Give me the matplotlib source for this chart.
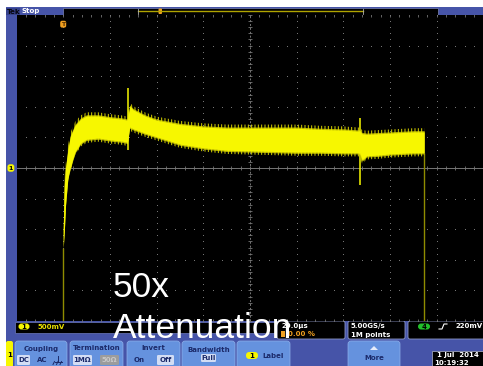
import matplotlib
matplotlib.use("Agg")
import matplotlib.pyplot as plt
import matplotlib.transforms as mtransforms
from matplotlib.patches import Rectangle, FancyBboxPatch, Polygon
import numpy as np

# ---------------- channel 1 capture (time in µs after trigger, volts) ----------------
t_env = [0.0, 0.5, 1.0, 2.0, 3.0, 5.0, 7.5, 10.0, 15.0, 20.0,
         25.0, 27.5, 28.5, 30.0, 35.0, 40.0, 50.0, 60.0, 70.0, 80.0,
         90.0, 100.0, 110.0, 120.0, 127.0, 128.0, 130.0, 135.0, 140.0, 150.0,
         154.6]
v_upper = [-1.01, -0.28, 0.0, 0.29, 0.51, 0.69, 0.80, 0.85, 0.85, 0.82,
           0.80, 0.78, 1.01, 0.95, 0.85, 0.78, 0.71, 0.67, 0.65, 0.65,
           0.65, 0.65, 0.63, 0.62, 0.60, 0.56, 0.55, 0.56, 0.57, 0.59,
           0.59]
v_lower = [-1.30, -1.01, -0.60, -0.16, 0.0, 0.26, 0.41, 0.47, 0.49, 0.46,
           0.44, 0.42, 0.67, 0.64, 0.57, 0.51, 0.39, 0.33, 0.29, 0.28,
           0.27, 0.26, 0.26, 0.25, 0.25, 0.13, 0.20, 0.21, 0.23, 0.25,
           0.25]

# short transients riding on the pulse
spike_t = [27.8, 127.2]
spike_top = [1.31, 0.82]
spike_bottom = [0.29, -0.28]

# pulse edges: the trace leaves / returns to a level below the screen
edge_t = [0.0, 154.6]
edge_top = [-1.30, 0.25]
baseline_v = -3.0

trig_t = 0.0
time_span = [-20.0, 180.0]      # 20 µs/div, 10 divisions
volt_span = [-2.5, 2.5]         # 500 mV/div, 10 divisions

# readouts
ch1_scale = "500mV"
timebase = "20.0µs"
trig_pos = "0.00 %"
sample_rate = "5.00GS/s"
record_len = "1M points"
trig_level = "220mV"
date_str = "1 Jul  2014"
time_str = "10:19:32"

# ---------------- colours ----------------
W, H = 483, 366
panel = "#4654a8"
btn = "#6592de"
btn_txt = "#1b2a6a"
chip = "#d3ddf4"
yellow = "#f7f700"
olive = "#8f8c00"
orange = "#f0a020"
grid_c = "#767676"

plt.rcParams["hatch.linewidth"] = 0.7

fig = plt.figure(figsize=(W / 100, H / 100), dpi=100)
fig.patch.set_facecolor("white")

# ---------------- instrument frame (pixel coordinates) ----------------
bg = fig.add_axes([0, 0, 1, 1], zorder=0)
bg.set_xlim(0, W)
bg.set_ylim(H, 0)
bg.axis("off")

small = dict(fontsize=5.0, fontweight="bold", family="DejaVu Sans")

# top status bar
bg.add_patch(Rectangle((6, 7), W - 6, 8.5, color=panel, lw=0))
bg.add_patch(Rectangle((6, 7.5), 14, 7.5, color="#36428c", lw=0))
bg.text(6.5, 11.5, "Tek", color="#050510", va="center", ha="left", **small)
bg.text(21.5, 11.3, "Stop", color="white", va="center", ha="left", **small)
# record view
bg.add_patch(Rectangle((63, 8), 375, 6.5, facecolor="black", edgecolor="#7a84b8", lw=0.5))
bg.plot([138, 363], [11.2, 11.2], color="#b0a400", lw=1.0)
bg.plot([138, 138], [8.5, 14], color="#b0b0b0", lw=0.6)
bg.plot([363, 363], [8.5, 14], color="#b0b0b0", lw=0.6)
bg.add_patch(FancyBboxPatch((158.5, 8.5), 3.5, 5.5, boxstyle="round,pad=0,rounding_size=1",
                            color=orange, lw=0))

# left strip and bottom panel
bg.add_patch(Rectangle((6, 15), 10.6, 307, color=panel, lw=0))
bg.add_patch(Rectangle((6, 321), W - 6, H - 321, color=panel, lw=0))

# readout boxes
bg.add_patch(Rectangle((15, 321.5), 260, 11, facecolor="black", edgecolor="#6f7cc0", lw=0.5))
bg.add_patch(FancyBboxPatch((18.5, 323.5), 11, 6, boxstyle="round,pad=0,rounding_size=3",
                            color=yellow, lw=0))
bg.text(24, 326.6, "1", color="black", ha="center", va="center", **small)
bg.text(38, 326.6, ch1_scale, color="#e8e000", ha="left", va="center", **small)

for x0, w in [(277, 68), (348, 57), (408, 80)]:
    bg.add_patch(FancyBboxPatch((x0, 321), w, 18, boxstyle="round,pad=0,rounding_size=2",
                                facecolor="black", edgecolor="#8d98c8", lw=0.6))
bg.text(281, 326.3, timebase, color="white", ha="left", va="center", **small)
bg.add_patch(Rectangle((280.5, 331), 4.5, 6, color=orange, lw=0))
bg.text(288, 334.5, trig_pos, color=orange, ha="left", va="center", **small)
bg.text(351, 326.3, sample_rate, color="white", ha="left", va="center", **small)
bg.text(351, 334.5, record_len, color="white", ha="left", va="center", **small)
bg.add_patch(FancyBboxPatch((418, 323.5), 12, 6, boxstyle="round,pad=0,rounding_size=3",
                            color="#22c02a", lw=0))
bg.text(424, 326.6, "4", color="black", ha="center", va="center", **small)
bg.plot([439, 442, 444, 447], [329, 329, 324, 324], color="white", lw=0.8)
bg.text(455, 326.3, trig_level, color="white", ha="left", va="center", **small)

# soft-key row
bg.add_patch(FancyBboxPatch((6, 341), 7, 30, boxstyle="round,pad=0,rounding_size=2",
                            color=yellow, lw=0))
bg.text(9.5, 355, "1", color="black", ha="center", va="center", **small)
keys = [(15, 67, "Coupling"), (70, 123, "Termination"), (127, 180, "Invert"),
        (182, 235, "Bandwidth"), (237, 290, ""), (348, 400, "")]
for x0, x1, title in keys:
    bg.add_patch(FancyBboxPatch((x0, 341), x1 - x0, 30, boxstyle="round,pad=0,rounding_size=3",
                                facecolor=btn, edgecolor="#8fb0ea", lw=0.5))
    if title and title != "Bandwidth":
        bg.text((x0 + x1) / 2, 348.5, title, color=btn_txt, ha="center", va="center", **small)
bg.text(208.5, 350, "Bandwidth", color=btn_txt, ha="center", va="center", **small)


def chip_box(x0, w, label, fc=chip, tc=btn_txt, y0=355, h=10):
    bg.add_patch(FancyBboxPatch((x0, y0), w, h, boxstyle="round,pad=0,rounding_size=1.2",
                                color=fc, lw=0))
    bg.text(x0 + w / 2, y0 + h / 2 + 0.3, label, color=tc, ha="center", va="center", **small)


chip_box(17, 13, "DC")
bg.text(42, 360.3, "AC", color=btn_txt, ha="center", va="center", **small)
# ground symbol
gx, gy = 58, 355.5
bg.plot([gx, gx], [gy, gy + 6], color=btn_txt, lw=0.7)
bg.plot([gx - 3.5, gx + 3.5], [gy + 6, gy + 6], color=btn_txt, lw=0.7)
bg.plot([gx - 3.5, gx - 5], [gy + 6, gy + 9], color=btn_txt, lw=0.7)
bg.plot([gx, gx - 1.5], [gy + 6, gy + 9], color=btn_txt, lw=0.7)
bg.plot([gx + 3.5, gx + 2], [gy + 6, gy + 9], color=btn_txt, lw=0.7)
chip_box(73, 19, "1MΩ")
chip_box(100, 19, "50Ω", fc="#9c9c9c", tc="#c8c8c8")
bg.text(139, 360.3, "On", color=btn_txt, ha="center", va="center", **small)
chip_box(157, 17, "Off")
chip_box(201, 15, "Full", y0=354, h=8)
bg.add_patch(FancyBboxPatch((246, 352), 12, 7, boxstyle="round,pad=0,rounding_size=3.5",
                            color=yellow, lw=0))
bg.text(252, 355.6, "1", color="black", ha="center", va="center", **small)
bg.text(262, 355.6, "Label", color=btn_txt, ha="left", va="center", **small)
bg.add_patch(Polygon([[370, 350], [378, 350], [374, 346]], closed=True, color="#e6ecfa", lw=0))
bg.text(374, 358.5, "More", color=btn_txt, ha="center", va="center", **small)

bg.add_patch(Rectangle((432, 350.5), 55, 18, facecolor="black", edgecolor="#9aa0b8", lw=0.6))
bg.text(437, 355.5, date_str, color="white", ha="left", va="center", **small)
bg.text(434.5, 363, time_str, color="white", ha="left", va="center", **small)

# ---------------- graticule and waveform ----------------
ax = fig.add_axes([16.5 / W, 1 - 321 / H, (W + 0.5 - 16.5) / W, (321 - 15) / H], zorder=1)
ax.set_facecolor("black")
ax.set_xlim(*time_span)
ax.set_ylim(*volt_span)
ax.set_xticks([])
ax.set_yticks([])
for s in ax.spines.values():
    s.set_visible(False)

xdiv = np.linspace(time_span[0], time_span[1], 11)
ydiv = np.linspace(volt_span[0], volt_span[1], 11)
xsub = np.linspace(time_span[0], time_span[1], 51)
ysub = np.linspace(volt_span[0], volt_span[1], 51)
xc = xdiv[5]
yc = ydiv[5]
for x in xdiv[1:-1]:
    if x != xc:
        ax.plot(np.full_like(ysub, x), ysub, ls="none", marker="s", ms=0.7, mew=0,
                color=grid_c, zorder=1)
for y in ydiv[1:-1]:
    if abs(y - yc) > 1e-9:
        ax.plot(xsub, np.full_like(xsub, y), ls="none", marker="s", ms=0.7, mew=0,
                color=grid_c, zorder=1)
ax.axhline(yc, color=grid_c, lw=0.7, zorder=1)
ax.axvline(xc, color=grid_c, lw=0.7, ls=(0, (2, 2)), zorder=1)
ax.plot(xsub, np.full_like(xsub, yc), ls="none", marker="|", ms=3.5, mew=0.6, color=grid_c, zorder=1)
ax.plot(np.full_like(ysub, xc), ysub, ls="none", marker="_", ms=3.5, mew=0.6, color=grid_c, zorder=1)
ax.plot(xsub, np.full_like(xsub, volt_span[1]), ls="none", marker="|", ms=3, mew=0.6, color=grid_c, zorder=1)
ax.plot(xsub, np.full_like(xsub, volt_span[0]), ls="none", marker="|", ms=3, mew=0.6, color=grid_c, zorder=1)

# waveform: noise band with a hatched fringe for the peak excursions, edges and transients
ax.vlines(edge_t, baseline_v, edge_top, color=olive, lw=1.0, zorder=2)
tl = np.array(t_env)
up = np.array(v_upper)
lo = np.array(v_lower)
ax.fill_between(tl, lo - 0.06, up + 0.06, facecolor="none", edgecolor="#d8d400",
                hatch="|||||", lw=0, zorder=3)
ax.fill_between(tl, lo - 0.02, up + 0.02, color="#e0dc00", lw=0, alpha=0.8, zorder=3)
ax.fill_between(tl, lo, up, color=yellow, lw=0, zorder=4)
ax.vlines(spike_t, spike_bottom, spike_top, color=yellow, lw=1.1, zorder=4)

# trigger marker
ax.text(trig_t, volt_span[1] - 0.15, "T", color="#5a3000", fontsize=4.5, fontweight="bold",
        ha="center", va="center", zorder=6,
        bbox=dict(boxstyle="round,pad=0.15,rounding_size=0.3", fc=orange, ec="none"))

# channel 1 ground marker
gtr = mtransforms.blended_transform_factory(ax.transAxes, ax.transData)
ax.text(-0.012, yc, "1", transform=gtr, color="black", fontsize=4.5, fontweight="bold",
        ha="center", va="center", zorder=6, clip_on=False,
        bbox=dict(boxstyle="round,pad=0.2,rounding_size=0.4", fc=yellow, ec="none"))

# ---------------- slide annotation ----------------
fg = fig.add_axes([0, 0, 1, 1], zorder=3)
fg.set_xlim(0, W)
fg.set_ylim(H, 0)
fg.axis("off")
fg.patch.set_alpha(0)
big = dict(fontsize=25.5, family="Liberation Sans", color="white", ha="left", va="baseline")
fg.text(112.5, 297, "50x", **big)
fg.text(112.5, 338, "Attenuation", **big)

fig.savefig("out.png", dpi=100, facecolor=fig.get_facecolor())
